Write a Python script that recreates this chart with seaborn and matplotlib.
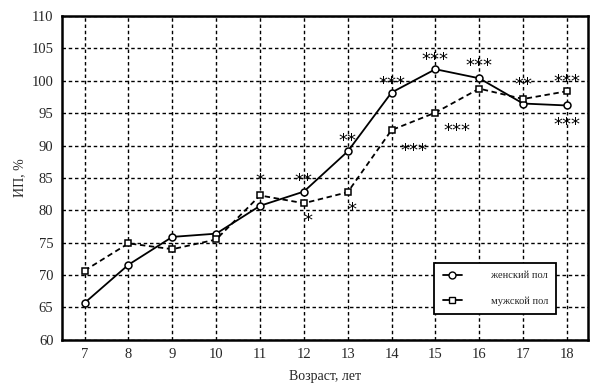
import pandas as pd
import numpy as np
import matplotlib
matplotlib.use("Agg")
import matplotlib.pyplot as plt
import seaborn as sns

# Data
ages = [7, 8, 9, 10, 11, 12, 13, 14, 15, 16, 17, 18]
female = [65.7, 71.6, 75.9, 76.4, 80.7, 82.9, 89.1, 98.2, 101.8, 100.4, 96.5, 96.2]
male = [70.7, 74.9, 74.0, 75.5, 82.3, 81.1, 82.8, 92.4, 95.1, 98.8, 97.2, 98.4]
series_names = ["женский пол", "мужской пол"]

# significance marks: age, y position, text
star_ages = [11, 12, 12.1, 13, 13.1, 14, 14.5, 15, 15.5, 16, 17, 18, 18]
star_y = [84.8, 84.8, 78.6, 91.0, 80.4, 99.9, 89.5, 103.6, 92.6, 102.6, 99.6, 100.2, 93.5]
star_text = ["*", "**", "*", "**", "*", "***", "***", "***", "***", "***", "**", "***", "***"]

df = pd.DataFrame({
    "age": ages * 2,
    "val": female + male,
    "sex": [series_names[0]] * len(ages) + [series_names[1]] * len(ages),
})

sns.set_style("white")
plt.rcParams["font.family"] = ["Liberation Serif", "DejaVu Serif"]

fig = plt.figure(figsize=(6, 3.84), dpi=100)
ax = fig.add_axes([0.103, 0.115, 0.877, 0.843])

sns.lineplot(data=df, x="age", y="val", hue="sex", style="sex",
             palette=["black", "black"], markers=["o", "s"],
             dashes=[(None, None), (3, 2)], linewidth=1.3,
             markersize=5, markerfacecolor="white", markeredgecolor="black",
             markeredgewidth=1.1, ax=ax, legend=False)

for a, y, t in zip(star_ages, star_y, star_text):
    ax.text(a, y, t, ha="center", va="center_baseline", fontsize=13,
            color="black", family="DejaVu Sans")

ax.set_xlim(6.48, 18.48)
ax.set_ylim(60, 110)
ax.set_xticks(ages)
ax.set_yticks(range(60, 111, 5))
ax.grid(True, color="black", linestyle=(0, (2.5, 2)), linewidth=1.0)
for s in ax.spines.values():
    s.set_linewidth(1.8)
    s.set_color("black")
ax.tick_params(axis="both", length=0, labelsize=10.5, pad=6)
ax.set_xlabel("Возраст, лет", fontsize=10, labelpad=6)
ax.set_ylabel("ИП, %", fontsize=10, labelpad=4)

h1 = plt.Line2D([], [], color="black", marker="o", markersize=5,
                markerfacecolor="white", linewidth=1.3)
h2 = plt.Line2D([], [], color="black", marker="s", markersize=5,
                markerfacecolor="white", linewidth=1.3)
leg = ax.legend([h1, h2], series_names, loc="lower right",
                bbox_to_anchor=(0.94, 0.08), fontsize=7.5, frameon=True,
                fancybox=False, edgecolor="black", handlelength=1.8,
                labelspacing=1.5, borderpad=0.8, handletextpad=2.8,
                borderaxespad=0)
leg.get_frame().set_linewidth(1.3)
leg.get_frame().set_alpha(1)

fig.savefig("out.png", dpi=100)
